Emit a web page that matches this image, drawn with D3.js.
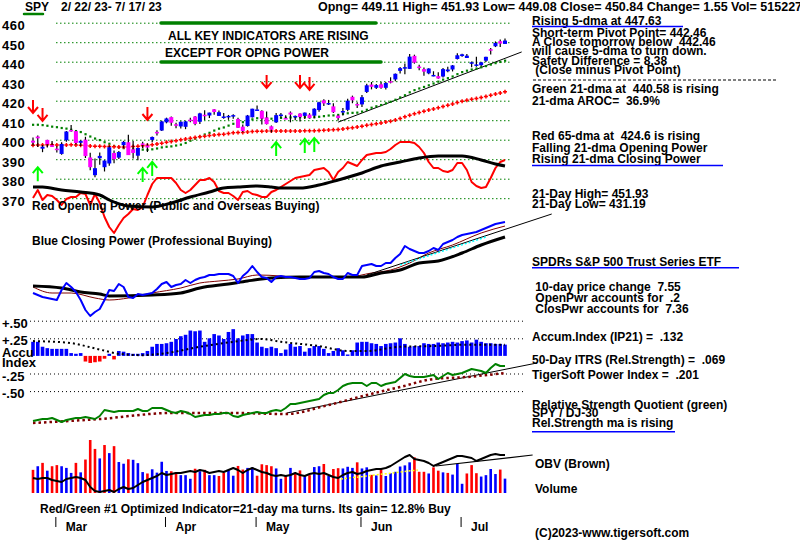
<!DOCTYPE html>
<html>
<head>
<meta charset="utf-8">
<script src="https://d3js.org/d3.v7.min.js"></script>
<style>
body { margin: 0; background: #fff; }
svg { display: block; background: #fff; }
text { font-family: "Liberation Sans", Arial, sans-serif; font-size: 12px; font-weight: bold; fill: #000; white-space: pre; }
</style>
</head>
<body>
<div id="chart"></div>
<script>
// SPY daily bars 2/22/23 - 7/17/23 (100 sessions)
var opens = [399.5,401.6,395.4,399.9,397.2,
  395.4,392.7,399.7,405.0,404.4,398.4,400.0,390.9,381.8,390.5,385.9,387.8,393.2,390.8,397.2,398.7,395.1,391.8,398.1,397.0,399.9,404.0,404.7,
  408.9,411.6,407.9,406.8,406.6,410.3,411.9,409.2,412.8,412.4,415.6,412.2,411.2,412.2,412.0,410.6,406.7,407.0,411.5,
  415.5,414.8,411.4,406.9,408.9,412.2,411.1,413.9,411.9,413.4,412.2,412.9,412.3,415.2,420.2,418.6,417.1,412.4,414.7,415.3,422.0,418.3,
  418.1,424.5,428.3,426.6,428.4,426.6,430.0,430.9,435.3,437.0,436.3,443.0,437.5,436.2,434.0,432.9,432.6,432.4,435.1,436.0,441.4,
  442.9,441.9,439.4,438.6,438.2,440.5,446.4,447.9,450.5,449.11];
var highs = [401.1,402.2,397.3,400.0,399.3,
  396.7,398.7,404.5,407.5,404.7,399.7,401.5,393.3,390.4,393.4,389.5,397.0,394.4,394.2,399.4,402.5,399.3,395.8,398.9,398.1,401.6,404.9,409.7,
  411.3,411.9,408.7,409.5,409.7,411.2,412.2,413.8,415.1,413.9,415.7,415.0,413.7,412.7,413.1,411.2,407.8,412.7,415.9,
  417.6,415.1,414.4,407.3,413.7,413.7,412.5,414.5,412.4,413.6,414.0,413.6,416.1,419.4,420.7,420.4,418.7,412.8,416.2,421.0,422.6,419.2,
  422.9,428.7,429.6,428.6,429.6,429.6,432.0,433.9,437.3,439.1,443.9,443.6,438.4,437.0,436.6,435.1,434.6,436.8,437.4,438.3,444.3,
  444.1,443.9,440.1,442.6,439.8,442.6,447.0,450.4,451.4,451.93];
var lows = [397.0,396.3,393.6,396.0,396.2,
  393.4,392.3,399.0,404.1,397.6,396.8,390.6,384.3,380.7,387.1,383.7,386.7,387.9,390.1,395.6,392.1,390.4,389.4,395.6,393.7,398.7,402.1,404.5,
  408.4,407.2,405.9,405.7,405.4,408.9,407.4,408.0,410.1,411.1,412.8,412.2,410.7,410.2,410.7,406.0,403.8,406.7,411.4,
  415.3,407.8,407.8,403.7,408.6,411.3,410.7,408.9,410.0,409.3,410.6,410.9,411.0,414.3,417.3,417.8,413.7,409.9,412.4,414.6,418.7,416.2,
  416.8,423.9,425.8,426.0,426.1,425.8,428.9,430.0,434.0,433.6,436.2,439.0,435.6,432.8,433.6,432.5,431.2,431.9,434.6,435.0,441.1,
  442.6,441.9,437.1,437.4,437.6,439.8,443.7,447.5,447.6,449.08];
var closes = [398.5,400.7,396.4,397.7,396.3,
  394.7,397.8,404.2,404.5,398.3,399.4,391.6,385.9,385.4,391.7,389.3,396.1,390.0,393.7,398.9,392.1,393.2,395.8,397.5,396.0,401.4,403.7,409.4,
  410.9,408.7,407.6,409.2,409.4,409.7,408.1,413.5,412.5,413.9,414.2,414.1,411.9,412.2,412.6,406.1,404.4,412.4,415.9,
  415.5,410.8,408.0,405.1,412.6,412.9,410.9,412.9,412.2,411.6,413.9,411.1,415.9,419.2,418.6,418.8,414.1,411.1,414.7,420.0,420.2,417.9,
  421.8,427.9,427.1,428.0,426.6,429.1,429.9,433.8,436.7,437.2,442.6,439.5,437.2,434.9,436.5,433.2,431.4,436.2,436.0,438.1,443.3,
  443.8,443.1,439.7,438.6,439.7,442.5,446.0,449.6,449.3,450.84];
// closes before the window, needed for the 21- and 65-day averages
var priorCloses = [394.2,394.6,392.8,398.4,400.6,402.3,395.9,395.2,407.7,
  407.4,406.9,399.6,393.8,393.2,396.2,393.3,398.95,401.97,399.4,389.6,383.3,380.0,380.5,386.2,380.7,382.9,381.4,376.7,383.4,382.4,
  380.8,383.8,379.4,388.1,387.9,390.6,395.5,397.0,398.5,397.8,391.5,388.6,395.9,400.6,400.2,400.4,404.8,405.7,400.6,406.5,
  410.8,416.8,412.4,409.8,415.2,410.7,407.1,408.0,412.8,412.6,414.0,408.3,407.3,399.1];
// volume, millions
var volumes = [83,96,108,80,96,
  100,96,90,72,108,74,120,190,158,124,172,143,168,111,105,121,119,107,75,70,85,73,112,
  79,78,74,64,64,51,87,78,83,64,64,61,72,82,62,97,84,90,91,
  62,103,100,96,88,51,64,90,68,81,60,64,93,96,104,61,86,89,88,94,90,110,
  88,92,65,63,85,61,71,76,95,99,110,128,76,76,70,92,80,74,72,66,104,
  33,70,100,71,59,64,86,68,84,51.5];

// indicators (arbitrary units 0-100 unless noted)
var opPower = [42,50,40,45,44,40,35,41,43,43, 47,46,35,46,37,23,13,7,15,22, 26,31,30,33,45,56,62,62,62,62,
  57,50,47,50,55,60,60,62,58,49, 47,47,44,40,48,49,46,45,43,43, 48,50,53,56,59,62,63,64,65,70,
  71,72,68,60,68,72,78,76,74,80, 85,86,87,87,88,91,95,98,98,98, 97,93,87,78,72,72,69,68,70,77,
  77,70,58,54,52,53,62,72,78,80];
var opMaDays = [0,2,6,10,14,16,20,25,29,33,37,40,43,47,50,52,56,60,64,69,73,77,81,85,90,94,97,99];
var opMaVals = [53,53,50,48,45,40,34,33,37,43,48,52,53,54,53,52,52,55,60,67,74,78,82,84,84,80,76,74];

var cpPower = [27,25,23,22,21,20,30,37,33,28, 20,10,4,8,11,20,30,29,36,33, 23,22,26,25,26,27,31,36,38,33,
  35,36,40,37,40,42,43,45,45,46, 46,46,44,37,44,48,54,48,43,42, 38,43,44,43,43,42,41,41,42,48,
  49,47,46,43,41,41,47,45,45,54, 55,56,54,54,57,57,62,66,74,71, 69,67,67,69,72,70,76,78,80,83,
  85,86,87,88,90,92,94,96,97,98];
var cpMaBrownDays = [0,4,8,13,16,20,25,31,35,39,43,47,52,56,60,66,71,75,79,83,88,94,99];
var cpMaBrownVals = [33,27,27,22,20,22,27,32,37,39,41,45,44,42,43,43,47,50,57,67,75,87,94];
var cpMaBlackDays = [0,6,10,14,16,25,31,35,41,45,50,56,62,69,73,77,81,85,90,94,99];
var cpMaBlackVals = [34,32,28,26,24,25,27,32,36,39,42,43,43,43,47,50,57,59,67,75,83];

// Accumulation index (IP21)
var accum = [0.20,0.20,0.13,0.11,0.10,0.10,0.10,0.10,0.04,0.03, 0.04,-0.08,-0.10,-0.09,-0.08,-0.04,0.03,-0.05,0.07,0.06,
  0.04,0.03,0.03,0.04,0.07,0.13,0.17,0.17,0.18,0.20, 0.24,0.28,0.30,0.36,0.35,0.36,0.20,0.25,0.31,0.29,
  0.24,0.34,0.38,0.25,0.29,0.31,0.31,0.19,0.13,0.11, 0.13,0.11,0.04,0.09,0.17,0.13,0.14,0.06,0.11,0.14,
  0.14,0.10,0.04,0.07,0.11,0.08,0.02,0.08,0.19,0.20, 0.20,0.18,0.17,0.14,0.17,0.18,0.19,0.25,0.17,0.13,
  0.14,0.14,0.18,0.17,0.17,0.19,0.18,0.19,0.20,0.19, 0.21,0.22,0.19,0.23,0.20,0.18,0.18,0.17,0.17,0.16];
var accumMaDays = [0,7,14,18,23,28,35,42,48,52,60,66,70,77,84,91,99];
var accumMaVals = [0.21,0.19,0.09,0.03,0.01,0.04,0.13,0.20,0.24,0.20,0.14,0.07,0.07,0.13,0.14,0.16,0.16];

// Relative strength quotient SPY / DJ-30
var rsq = [9,10,11,11,12,10,8,10,11,12, 12,13,12,11,14,20,19,18,19,19, 19,19,21,19,19,22,22,22,20,18,
  17,19,18,16,13,14,15,15,16,16, 17,17,14,13,15,16,17,18,17,17, 19,20,19,22,26,26,27,28,29,30,
  31,35,37,37,40,44,46,47,47,47, 44,47,47,44,46,47,48,52,56,54, 53,53,53,54,55,51,54,57,55,56,
  57,59,61,60,59,57,62,66,64,64];
var rsMaDays = [0,14,29,42,53,62,70,77,84,91,99];
var rsMaVals = [7,11,17,17,16,25,35,43,51,53,57];

// On-balance volume
var obv = [22,21,22,22,20,19,18,21,22,23, 22,20,13,9,8,9,10,8,11,13, 11,12,15,18,20,22,24,27,25,26,
  27,27,28,29,28,30,29,27,28,29, 28,30,32,30,27,30,32,30,28,27, 25,24,25,24,25,27,25,24,26,27,
  26,27,25,23,22,25,27,28,26,27, 29,30,31,31,32,34,37,40,43,45, 41,40,39,37,34,36,38,40,42,44,
  44,43,42,39,41,43,45,46,45,45];

// trend lines [day, value]
var priceTrend = [[64, 409], [102.5, 445]];
var cpTrend = [[70, 45], [108.8, 106]];
var cpTrendCyan = [[77, 55], [95, 83]];
var rsTrend = [[53.2, 17], [105.7, 67]];
var obvTrend = [[84.5, 34], [104.8, 45]];
var obvTrendYellow = [[64.6, 21], [80.7, 30]];

// Red/Green signals
var sellDays = [0, 2, 24, 49, 56, 58];
var sellLevels = [413.7, 409.6, 410.1, 426.5, 426.5, 425.5];
var buyDays = [1, 23, 25, 51, 57, 59];
var buyLevels = [385.9, 385.5, 388.6, 398.8, 400.4, 400.9];

var priceTicks = [460, 450, 440, 430, 420, 410, 400, 390, 380, 370];
var accumTicks = [0.5, 0.25, -0.25, -0.5];
var accumTickLabels = ["+.50", "+.25", "-.25", "-.50"];
var monthLabels = ["Mar", "Apr", "May", "Jun", "Jul"];
var monthStartDays = [5, 28, 47, 69, 90];

const width = 800, height = 542;

var svg = d3.select("#chart")
  .append("svg")
    .attr("width", width)
    .attr("height", height);

var x = d3.scaleLinear().domain([0, 99]).range([33, 505]);
var yPrice = d3.scaleLinear().domain([370, 460]).range([198.2, 22.7]);
var yOp = d3.scaleLinear().domain([0, 100]).range([240, 140]);
var yCp = d3.scaleLinear().domain([0, 100]).range([320, 220]);
var yAcc = d3.scaleLinear().domain([-0.5, 0.5]).range([391.1, 320.7]);
var yRs = d3.scaleLinear().domain([0, 100]).range([430, 330]);
var yVol = d3.scaleLinear().domain([0, 190]).range([493, 440]);
var yObv = d3.scaleLinear().domain([0, 100]).range([500, 400]);

function movingAvg(n) {
  var all = priorCloses.concat(closes);
  var off = priorCloses.length;
  return closes.map(function(d, i) {
    return d3.mean(all.slice(off + i - n + 1, off + i + 1));
  });
}
var ma21 = movingAvg(21);
var ma65 = movingAvg(65);

function pairs(days, vals) { return days.map(function(d, i) { return [d, vals[i]]; }); }
function daily(vals) { return vals.map(function(v, i) { return [i, v]; }); }

function drawLine(data, yScale, color, w, dash, curve) {
  var line = d3.line()
    .x(function(d) { return x(d[0]); })
    .y(function(d) { return yScale(d[1]); });
  if (curve) line.curve(curve);
  svg.append("path")
    .datum(data)
    .attr("d", line)
    .attr("fill", "none")
    .attr("stroke", color)
    .attr("stroke-width", w)
    .attr("stroke-dasharray", dash || null)
    .attr("stroke-linejoin", "round");
}

function label(txt, tx, ty, size) {
  var t = svg.append("text").attr("x", tx).attr("y", ty).text(txt);
  if (size) t.style("font-size", size + "px");
  return t;
}

function hline(x1, x2, yy, color, w, dash) {
  svg.append("line")
    .attr("x1", x1).attr("x2", x2).attr("y1", yy).attr("y2", yy)
    .attr("stroke", color).attr("stroke-width", w)
    .attr("stroke-dasharray", dash || null);
}

// ---- price grid (axis) ----
var priceAxis = svg.append("g")
  .attr("transform", "translate(56,0)")
  .call(d3.axisLeft(yPrice).tickValues(priceTicks).tickSize(-456).tickFormat(d3.format("d")));
priceAxis.select(".domain").remove();
priceAxis.selectAll(".tick line")
  .attr("stroke", "#008000").attr("stroke-dasharray", "1.5,2.5");
priceAxis.selectAll(".tick text")
  .attr("x", -54).attr("dy", "0.56em").attr("text-anchor", "start")
  .style("font-family", "'Liberation Sans', Arial, sans-serif")
  .style("font-size", "13px").style("font-weight", "bold")
  .style("letter-spacing", "0.5px").attr("fill", "#000");

// ---- accumulation grid ----
var accAxis = svg.append("g")
  .attr("transform", "translate(30,0)")
  .call(d3.axisLeft(yAcc).tickValues(accumTicks).tickSize(-495)
    .tickFormat(function(d, i) { return accumTickLabels[i]; }));
accAxis.select(".domain").remove();
accAxis.selectAll(".tick line").attr("stroke", "#000").attr("stroke-dasharray", "1,3");
accAxis.selectAll(".tick text")
  .attr("x", -28).attr("dy", "0.5em").attr("text-anchor", "start")
  .style("font-family", "'Liberation Sans', Arial, sans-serif")
  .style("font-size", "13px").style("font-weight", "bold").attr("fill", "#000");

// ---- opening power ----
drawLine(daily(opPower), yOp, "#ff0000", 2);
drawLine(pairs(opMaDays, opMaVals), yOp, "#000", 3, null, d3.curveMonotoneX);

// ---- price trend line ----
drawLine(priceTrend, yPrice, "#000", 1);

// ---- moving averages ----
svg.selectAll(".ma21")
  .data(ma21).enter().append("rect")
    .attr("x", function(d, i) { return x(i) - 1; })
    .attr("y", function(d) { return yPrice(d) - 1; })
    .attr("width", 2.2).attr("height", 2.2)
    .attr("fill", "#008000");
svg.selectAll(".ma65")
  .data(ma65).enter().append("path")
    .attr("d", function(d, i) {
      var cx = x(i), cy = yPrice(d);
      return "M" + (cx - 2) + "," + cy + "H" + (cx + 2) + "M" + cx + "," + (cy - 2) + "V" + (cy + 2);
    })
    .attr("stroke", "#ff0000").attr("stroke-width", 1.5);

// ---- candles ----
svg.selectAll(".wick")
  .data(closes).enter().append("line")
    .attr("x1", function(d, i) { return x(i); })
    .attr("x2", function(d, i) { return x(i); })
    .attr("y1", function(d, i) { return yPrice(highs[i]); })
    .attr("y2", function(d, i) { return yPrice(lows[i]); })
    .attr("stroke", "#000").attr("stroke-width", 1.2);
svg.selectAll(".body")
  .data(closes).enter().append("rect")
    .attr("x", function(d, i) { return x(i) - 2; })
    .attr("y", function(d, i) { return yPrice(Math.max(opens[i], d)); })
    .attr("width", 4)
    .attr("height", function(d, i) { return Math.max(1.5, Math.abs(yPrice(opens[i]) - yPrice(d))); })
    .attr("fill", function(d, i) { return d >= opens[i] ? "#0000ff" : "#ff00ff"; });

// ---- signal arrows ----
svg.selectAll(".sell")
  .data(sellDays).enter().append("path")
    .attr("d", function(d, i) {
      var cx = x(d), ty = yPrice(sellLevels[i]);
      return "M" + cx + "," + (ty - 13) + "V" + ty + "M" + (cx - 5) + "," + (ty - 6) + "L" + cx + "," + ty + "L" + (cx + 5) + "," + (ty - 6);
    })
    .attr("fill", "none").attr("stroke", "#ff0000").attr("stroke-width", 2);
svg.selectAll(".buy")
  .data(buyDays).enter().append("path")
    .attr("d", function(d, i) {
      var cx = x(d), ty = yPrice(buyLevels[i]);
      return "M" + cx + "," + (ty + 14) + "V" + ty + "M" + (cx - 5) + "," + (ty + 6) + "L" + cx + "," + ty + "L" + (cx + 5) + "," + (ty + 6);
    })
    .attr("fill", "none").attr("stroke", "#00ff00").attr("stroke-width", 2);

// ---- closing power ----
drawLine(pairs(cpMaBrownDays, cpMaBrownVals), yCp, "#800000", 1, null, d3.curveMonotoneX);
drawLine(pairs(cpMaBlackDays, cpMaBlackVals), yCp, "#000", 3, null, d3.curveMonotoneX);
drawLine(cpTrend, yCp, "#000", 1);
drawLine(cpTrendCyan, yCp, "#00ffff", 1.5, "2,2");
drawLine(daily(cpPower), yCp, "#0000ff", 2);

// ---- accumulation index ----
svg.selectAll(".acc")
  .data(accum).enter().append("rect")
    .attr("x", function(d, i) { return x(i) - 1.8; })
    .attr("y", function(d) { return yAcc(Math.max(0, d)); })
    .attr("width", 3.6)
    .attr("height", function(d) { return Math.abs(yAcc(d) - yAcc(0)); })
    .attr("fill", function(d) { return d >= 0 ? "#0000ff" : "#ff0000"; });
drawLine(pairs(accumMaDays, accumMaVals), yAcc, "#000", 2, "2,3", d3.curveMonotoneX);

// ---- relative strength ----
drawLine(rsTrend, yRs, "#000", 1);
drawLine(pairs(rsMaDays, rsMaVals), yRs, "#800000", 2.5, "2.5,3", d3.curveMonotoneX);
drawLine(daily(rsq), yRs, "#008000", 2);

// ---- volume ----
svg.selectAll(".vol")
  .data(volumes).enter().append("rect")
    .attr("x", function(d, i) { return x(i) - 1.3; })
    .attr("y", function(d) { return yVol(d); })
    .attr("width", 2.6)
    .attr("height", function(d) { return yVol(0) - yVol(d); })
    .attr("fill", function(d, i) {
      var prev = i === 0 ? priorCloses[priorCloses.length - 1] : closes[i - 1];
      return closes[i] >= prev ? "#0000ff" : "#ff0000";
    });
drawLine(daily(obv), yObv, "#000", 2);
drawLine(obvTrendYellow, yObv, "#ffff00", 1.5, "2,2");
drawLine(obvTrend, yObv, "#000", 1.2);

// ---- month axis ----
svg.selectAll(".mtick")
  .data(monthStartDays).enter().append("line")
    .attr("x1", function(d) { return x(d) - 1; })
    .attr("x2", function(d) { return x(d) - 1; })
    .attr("y1", 517).attr("y2", 527)
    .attr("stroke", "#000").attr("stroke-width", 1);
svg.selectAll(".mlabel")
  .data(monthStartDays).enter().append("text")
    .attr("x", function(d) { return x(d) + 9; })
    .attr("y", 531)
    .text(function(d, i) { return monthLabels[i]; });

// ---- header ----
label("SPY", 25, 11);
svg.append("line").attr("x1", 24).attr("x2", 43).attr("y1", 14).attr("y2", 14)
  .attr("stroke", "#008000").attr("stroke-width", 2.5).attr("stroke-linecap", "round");
label("2/ 22/ 23- 7/ 17/ 23", 61, 11);
label("Opng= 449.11 High= 451.93 Low= 449.08 Close= 450.84 Change= 1.55 Vol= 51522700", 318, 11, 12.5);

// banner
svg.append("line").attr("x1", 161).attr("x2", 376).attr("y1", 23).attr("y2", 23)
  .attr("stroke", "#008000").attr("stroke-width", 3.5).attr("stroke-linecap", "round");
svg.append("line").attr("x1", 161).attr("x2", 381).attr("y1", 62).attr("y2", 62)
  .attr("stroke", "#008000").attr("stroke-width", 3.5).attr("stroke-linecap", "round");
label("ALL KEY INDICATORS ARE RISING", 168, 40);
label("EXCEPT FOR OPNG POWER", 165, 57);

// panel captions
label("Red Opening Power (Public and Overseas Buying)", 32, 210);
label("Blue Closing Power (Professional Buying)", 32, 245);
label("Accu", 2, 357, 13);
label("Index", 2, 367, 13);

// ---- right-hand notes ----
var rx = 532;
label("Rising 5-dma at 447.63", rx, 24.5);
hline(532, 683, 26.5, "#0000ff", 1.5);
label("Short-term Pivot Point= 442.46", rx, 37);
label("A Close tomorrow below  442.46", rx, 46);
label("will cause 5-dma to turn down.", rx, 55);
label("Safety Difference = 8.38", rx, 65);
label(" (Close minus Pivot Point)", rx, 74);
hline(533, 776, 80, "#000", 1, "3,2");
label("Green 21-dma at  440.58 is rising", rx, 92.5);
label("21-dma AROC=  36.9%", rx, 104.5);
label("Red 65-dma at  424.6 is rising", rx, 140);
label("Falling 21-dma Opening Power", rx, 151.7);
label("Rising 21-dma Closing Power", rx, 162.5);
hline(532, 723, 165.5, "#0000ff", 1.5);
label("21-Day High= 451.93", rx, 197.7);
label("21-Day Low= 431.19", rx, 207.7);
label("SPDRs S&P 500 Trust Series ETF", rx, 265.7);
hline(532, 739, 267.8, "#0000ff", 1.5);
label(" 10-day price change  7.55", rx, 290.7);
label(" OpenPwr accounts for  .2", rx, 302.3);
label(" ClosPwr accounts for  7.36", rx, 313.3);
label("Accum.Index (IP21) =  .132", rx, 340.7);
label("50-Day ITRS (Rel.Strength) =  .069", rx, 364.3);
label("TigerSoft Power Index =  .201", rx, 379);
label("Relative Strength Quotient (green)", rx, 409.3);
label("SPY / DJ-30", rx, 416.7);
label("Rel.Strength ma is rising", rx, 427.3);
hline(532, 675, 431.8, "#0000ff", 1.5);
label("OBV (Brown)", 535, 468);
label("Volume", 535, 493);
label("Red/Green #1 Optimized Indicator=21-day ma turns. Its gain= 12.8% Buy", 40, 513);
label("(C)2023-www.tigersoft.com", 535, 537);
</script>
</body>
</html>
